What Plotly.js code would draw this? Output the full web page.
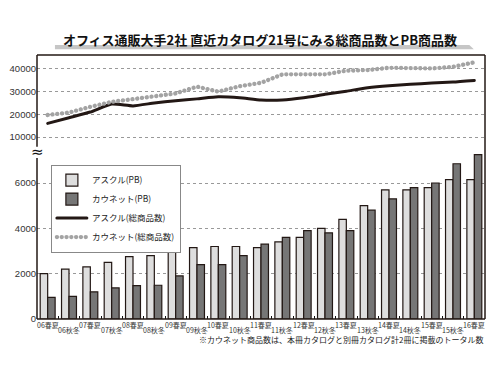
<!DOCTYPE html>
<html>
<head>
<meta charset="utf-8">
<script src="https://cdn.plot.ly/plotly-3.0.1.min.js"></script>
<style>
html,body{margin:0;padding:0;background:#fff;}
#chart{width:500px;height:375px;}
.js-line{stroke-linecap:round;}
</style>
</head>
<body>
<div id="chart"></div>
<script>
var cats = ["06春夏","06秋冬","07春夏","07秋冬","08春夏","08秋冬","09春夏","09秋冬","10春夏","10秋冬",
            "11春夏","11秋冬","12春夏","12秋冬","13春夏","13秋冬","14春夏","14秋冬","15春夏","15秋冬","16春夏"];
var askulPB   = [2000,2200,2300,2500,2750,2800,3000,3150,3200,3200,3150,3400,3600,4000,4400,5000,5700,5700,5800,6150,6150];
var kaunetPB  = [950,1000,1200,1370,1470,1490,1900,2400,2400,2800,3300,3600,3900,3800,3900,4800,5300,5800,6000,6850,7250];
var askulTotal  = [16000,18500,21000,24500,23700,25000,26000,26800,27700,27300,26300,26300,27300,28800,30200,31700,32600,33200,33800,34200,34900];
var kaunetTotal = [19700,20800,23300,25500,26700,28000,29200,32200,30000,32400,33900,37600,37700,37600,39200,39500,40500,40500,40200,40900,42900];
var seriesNames = ["アスクル(PB)","カウネット(PB)","アスクル(総商品数)","カウネット(総商品数)"];
var lowerTicks = [0,2000,4000,6000];
var upperTicks = [10000,20000,30000,40000];
var titleText = "オフィス通販大手2社 直近カタログ21号にみる総商品数とPB商品数";
var noteText = "※カウネット商品数は、本冊カタログと別冊カタログ計2冊に掲載のトータル数";

var FONT = "Noto Sans CJK JP, sans-serif";
var edge = "#231815";

var traces = [
  {type:"bar", name:seriesNames[0], x:cats, y:askulPB, yaxis:"y",
   marker:{color:"#dedede", line:{color:edge, width:1.2}}},
  {type:"bar", name:seriesNames[1], x:cats, y:kaunetPB, yaxis:"y",
   marker:{color:"#767676", line:{color:edge, width:1.2}}},
  {type:"scatter", mode:"lines", name:seriesNames[2], x:cats, y:askulTotal, yaxis:"y2",
   line:{color:edge, width:3, shape:"spline", smoothing:0.5}},
  {type:"scatter", mode:"lines", name:seriesNames[3], x:cats, y:kaunetTotal, yaxis:"y2",
   line:{color:"#a3a3a3", width:4.3, dash:"0.1px,4.7px"}}
];

var annotations = cats.map(function(c,i){
  return {text:c, x:c, xref:"x", y:0, yref:"paper", yanchor:"top", xanchor:"center",
          yshift:(i%2===0)?1.5:-3.5, showarrow:false, font:{family:FONT, size:7, color:"#333"}};
});
annotations.push({text:"≈", x:0, xref:"paper", y:0.633, yref:"paper", xanchor:"center", yanchor:"middle",
                  showarrow:false, font:{family:"DejaVu Sans", size:15, color:"#111"}});
annotations.push({text:noteText, x:1, xref:"paper", y:-0.077, yref:"paper", xanchor:"right", yanchor:"middle",
                  showarrow:false, font:{family:FONT, size:8, color:"#222"}});

var ln = {color:edge, width:1.5};
var shapes = [
  {type:"line", xref:"paper", yref:"paper", x0:0, x1:1, y0:1, y1:1, line:ln},
  {type:"line", xref:"paper", yref:"paper", x0:1, x1:1, y0:0, y1:1, line:ln},
  {type:"line", xref:"paper", yref:"paper", x0:0, x1:1, y0:0, y1:0, line:ln},
  {type:"line", xref:"paper", yref:"paper", x0:0, x1:0, y0:0.652, y1:1, line:ln},
  {type:"line", xref:"paper", yref:"paper", x0:0, x1:0, y0:0, y1:0.61, line:ln},
  {type:"path", xref:"paper", yref:"paper", path:"M 0.04 1.022 L 0.975 1.022 L 0.965 1.038 L 0.04 1.038 Z",
   fillcolor:"#c6c6c6", line:{width:0}}
];

var layout = {
  width:500, height:375,
  margin:{l:37, r:15, t:55, b:56},
  paper_bgcolor:"#fff", plot_bgcolor:"rgba(0,0,0,0)",
  font:{family:FONT, size:9, color:"#333"},
  title:{text:"<b>"+titleText+"</b>", x:0.52, xanchor:"center", y:0.893, yanchor:"middle", yref:"container",
         font:{family:FONT, size:13, color:"#111"}},
  barmode:"group", bargap:0.3, bargroupgap:0,
  showlegend:true,
  legend:{x:0.031, y:0.585, xanchor:"left", yanchor:"top", bgcolor:"#fff", bordercolor:"#888", borderwidth:1,
          font:{family:FONT, size:8.5, color:"#222"}, traceorder:"normal", itemwidth:30},
  xaxis:{type:"category", range:[-0.5,20.5], showticklabels:false, showgrid:false, zeroline:false,
         ticks:"inside", tickson:"boundaries", ticklen:3, tickcolor:"#111", tickwidth:1, showline:false, fixedrange:true},
  yaxis:{domain:[0,0.64], range:[0,7455], tickvals:lowerTicks, ticktext:lowerTicks.map(String),
         showgrid:true, gridcolor:"#999", griddash:"dot", gridwidth:1, zeroline:false, showline:false,
         ticks:"", tickfont:{family:"Liberation Sans", size:9.5, color:"#333"}},
  yaxis2:{domain:[0.64,1], range:[4273,46120], tickvals:upperTicks, ticktext:upperTicks.map(String), anchor:"x",
          showgrid:true, gridcolor:"#999", griddash:"dot", gridwidth:1, zeroline:false, showline:false,
          ticks:"", tickfont:{family:"Liberation Sans", size:9.5, color:"#333"}},
  annotations:annotations,
  shapes:shapes
};

Plotly.newPlot("chart", traces, layout, {displayModeBar:false, staticPlot:true});
</script>
</body>
</html>
